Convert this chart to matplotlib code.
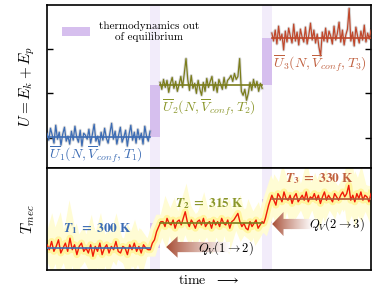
import numpy as np
import matplotlib
matplotlib.use("Agg")
from matplotlib import pyplot as plt
from matplotlib.patches import Patch, Polygon

plt.rcParams["mathtext.fontset"] = "cm"
plt.rcParams["font.family"] = "serif"
plt.rcParams["font.serif"] = ["cmr10", "DejaVu Serif"]
plt.rcParams["axes.formatter.use_mathtext"] = True

# time windows (arbitrary units, 0..100) of the three equilibrium stages
seg_start = [0.0, 34.9, 69.4]
seg_end = [31.8, 66.4, 100.0]
bands = [(31.8, 34.9), (66.4, 69.4)]

# mean internal energy of each stage (arb. units)
u_mean = [1.02, 2.18, 3.24]
# fluctuations (px, up positive)
u1_dev = [4, -3, 9, 2, -6, 12, -2, 5, -8, 3, 10, -4, 1, -7, 6, -3, 11, 0, -5, 7,
          -9, 4, 2, -2, 8, -6, 3, 13, -4, 1, -8, 5, -3, 9, -1, -6, 4, 14, -2, 6,
          -7, 2, 10, -5, 0, 7, -9, 3, 12, -3, 5, -6, 8, -2, 4, -7, 11, 1, -4, 6]
u2_dev = [3, -4, 6, -2, 5, -7, 2, 8, -3, 4, -6, 1, 9, -2, 12, 27, 6, -5, 10, -3,
          2, -8, 5, -4, -10, 3, -6, 7, -2, 4, 9, -5, 3, -7, 6, 1, -4, 8, -3, 5,
          7, 10, 4, 12, 6, 9, 27, -6, -10, -4, -15, -8, 3, -5, 6, -2, 4, -6, 2, -3]
u3_dev = [5, -3, 8, -6, 12, -2, 4, -12, 7, -4, 10, 2, -5, 14, -3, 6, -7, 9, 1, -4,
          11, -6, 3, 15, -2, 8, -5, 4, -9, -18, 6, -3, 10, -4, 7, 2, -6, 12, -2, 5,
          16, -4, 8, -7, 3, 9, 30, -3, 6, -8, 11, 2, -5, 7, -2, 13, -4, 5, -1, 8]

# temperatures (K)
temps = [300, 315, 330]
t1_dev = [2, -1, 4, -2, 1, 5, -3, 0, 3, -2, 6, -1, 2, -4, 1, 3, -2, 0, -3, 2,
          -5, 1, -2, 3, -4, 0, 2, -3, 1, -1, 4, -2, -3, 1, 0, -4, 2, -1, 3, -2,
          1, -3, 2, 0, -1]
ramp1 = [299, 303, 305, 310, 313, 316]
t2_dev = [1, -2, 3, 0, -1, 2, -3, 1, 2, -1, 3, 7, 1, -2, 2, 0, -3, 1, 2, -1,
          3, -2, 0, 1, -3, 2, -1, 1, -2, 3, 0, -1, 2, -3, 1, 2, 4, 6, 1, -2,
          0, -3, -4, 1, -2, 0, 2, -3, -1, 1]
ramp2 = [315, 318, 322, 326, 329]
t3_dev = [2, -1, -4, 3, 1, -2, 4, 0, -1, 2, -3, 1, 3, -2, 0, 2, -1, 4, -2, 1,
          0, 3, -1, 2, -3, 1, 4, -1, 2, 0, -2, 3, 1, -1, 2, 4, 1, 3, 8, -1,
          2, -2, 3, 0, 4, -1, 2, 1, -2, 3]
ramp_t = [(31.2, 35.8), (66.4, 69.4)]

u_cols = ["#3c6cb4", "#7b7d1c", "#c0482c"]
t_cols = ["#3c6cb4", "#7b7d1c", "#b05a3a"]
lbl_cols = ["#3c6cb4", "#8a962a", "#c0603f"]
band_col = "#f2ecfa"
rect_col = "#d6bfee"

fig = plt.figure(figsize=(3.74, 2.90), dpi=100)
ax1 = fig.add_axes([47 / 374, 1 - 168 / 290, 324 / 374, 163 / 290])
ax2 = fig.add_axes([47 / 374, 1 - 270 / 290, 324 / 374, 102 / 290])

for ax in (ax1, ax2):
    for a, b in bands:
        ax.axvspan(a, b, color=band_col, lw=0, zorder=0)
    ax.set_xlim(0, 100)
    for s in ax.spines.values():
        s.set_linewidth(1.2)

# ---- top panel: internal energy
devs = [u1_dev, u2_dev, u3_dev]
for i in range(3):
    x = np.linspace(seg_start[i], seg_end[i], len(devs[i]))
    y = u_mean[i] + np.array(devs[i]) / 45.0
    ax1.plot(x, y, color="0.6", lw=2.2, alpha=0.35, zorder=2)
    ax1.plot(x, y, color=u_cols[i], lw=0.9, zorder=3)
    ax1.plot([seg_start[i], seg_end[i]], [u_mean[i]] * 2, color=u_cols[i], lw=1.2, zorder=4)
for i, (a, b) in enumerate(bands):
    ax1.fill_between([a, b], u_mean[i], u_mean[i + 1], color=rect_col, lw=0, zorder=1)

ax1.set_ylim(0.33, 3.98)
ax1.set_yticks([1, 2, 3])
ax1.set_xticks([])
ax1.tick_params(axis="y", direction="in", length=4.5, width=1.0, left=True, right=True,
                labelleft=False)
ax1.set_ylabel(r"$U = E_k + E_p$", fontsize=11, labelpad=7)

u_labels = [r"$\overline{U}_1(N,\overline{V}_{conf},T_1)$",
            r"$\overline{U}_2(N,\overline{V}_{conf},T_2)$",
            r"$\overline{U}_3(N,\overline{V}_{conf},T_3)$"]
u_lbl_pos = [(0.6, 0.62), (35.5, 1.69), (69.8, 2.66)]
for i in range(3):
    ax1.text(u_lbl_pos[i][0], u_lbl_pos[i][1], u_labels[i], color=lbl_cols[i],
             fontsize=10, va="center", ha="left", zorder=5)

leg = ax1.legend(handles=[Patch(color=rect_col, lw=0)],
                 labels=["thermodynamics out\nof equilibrium"],
                 loc="upper left", bbox_to_anchor=(0.015, 0.965), frameon=False, fontsize=8,
                 handlelength=2.5, handleheight=0.8, handletextpad=0.8)
for t in leg.get_texts():
    t.set_multialignment("center")

# ---- bottom panel: mechanical temperature
tdevs = [t1_dev, t2_dev, t3_dev]
tx, ty = [], []
seg_t0 = [0.0, ramp_t[0][1], ramp_t[1][1]]
seg_t1 = [ramp_t[0][0], ramp_t[1][0], 100.0]
ramps = [ramp1, ramp2]
for i in range(3):
    xs = np.linspace(seg_t0[i], seg_t1[i], len(tdevs[i]))
    tx.extend(xs)
    ty.extend(temps[i] + np.array(tdevs[i]))
    if i < 2:
        xr = np.linspace(ramp_t[i][0], ramp_t[i][1], len(ramps[i]) + 2)[1:-1]
        tx.extend(xr)
        ty.extend(ramps[i])
tx = np.array(tx)
ty = np.array(ty)
ax2.plot(tx, ty, color="#fffcd4", lw=10, solid_joinstyle="miter", zorder=2)
ax2.plot(tx, ty, color="#fff59e", lw=5, zorder=2)
ax2.plot(tx, ty, color="#f01a08", lw=1.0, zorder=3)
for i in range(3):
    ax2.plot([seg_start[i], seg_end[i]], [temps[i]] * 2, color=t_cols[i], lw=1.2, zorder=4)
for i, (a, b) in enumerate(bands):
    ax2.fill_between([a, b], temps[i], temps[i + 1], color=rect_col, lw=0, zorder=1)

ax2.set_xticks([])
ax2.set_yticks([])
ax2.set_ylabel(r"$T_{mec}$", fontsize=11, labelpad=7)
ax2.set_xlabel(r"time  $\longrightarrow$", fontsize=10, labelpad=3)

t_labels = [r"$\mathbfit{T}_\mathbf{1}\mathbf{\ =\ 300\ K}$",
            r"$\mathbfit{T}_\mathbf{2}\mathbf{\ =\ 315\ K}$",
            r"$\mathbfit{T}_\mathbf{3}\mathbf{\ =\ 330\ K}$"]
t_lbl_pos = [(15.7, 311.7), (50.0, 327.0), (84.0, 342.0)]
for i in range(3):
    ax2.text(t_lbl_pos[i][0], t_lbl_pos[i][1], t_labels[i], color=lbl_cols[i],
             fontsize=9.5, ha="center", va="center", zorder=5, math_fontfamily="stix")

# heat flow arrows (axes coords) with a fading gradient
def fade_arrow(ax, tip, tail, yc, head_len, head_h, shaft_h):
    verts = [(tip, yc), (tip + head_len, yc + head_h), (tip + head_len, yc + shaft_h),
             (tail, yc + shaft_h), (tail, yc - shaft_h), (tip + head_len, yc - shaft_h),
             (tip + head_len, yc - head_h)]
    poly = Polygon(verts, closed=True, transform=ax.transAxes, facecolor="none", edgecolor="none")
    ax.add_patch(poly)
    base = np.array([0.64, 0.27, 0.17])
    f = np.linspace(0, 1, 256) ** 0.8
    img = base[None, :] * (1 - f[:, None]) + f[:, None]
    img = img[None, :, :]
    im = ax.imshow(img, extent=(tip, tail, yc - head_h, yc + head_h), transform=ax.transAxes,
                   aspect="auto", zorder=6, interpolation="bilinear")
    im.set_clip_path(poly)

fade_arrow(ax2, 0.368, 0.565, 0.225, 0.035, 0.105, 0.05)
fade_arrow(ax2, 0.695, 0.820, 0.451, 0.035, 0.118, 0.05)
ax2.set_xlim(0, 100)
ax2.set_ylim(286.7, 348.5)
ax2.text(0.465, 0.215, r"$Q_V(1\rightarrow 2)$", transform=ax2.transAxes, fontsize=9,
         va="center", ha="left", zorder=7)
ax2.text(0.81, 0.451, r"$Q_V(2\rightarrow 3)$", transform=ax2.transAxes, fontsize=9,
         va="center", ha="left", zorder=7)

fig.savefig("out.png", dpi=100)
